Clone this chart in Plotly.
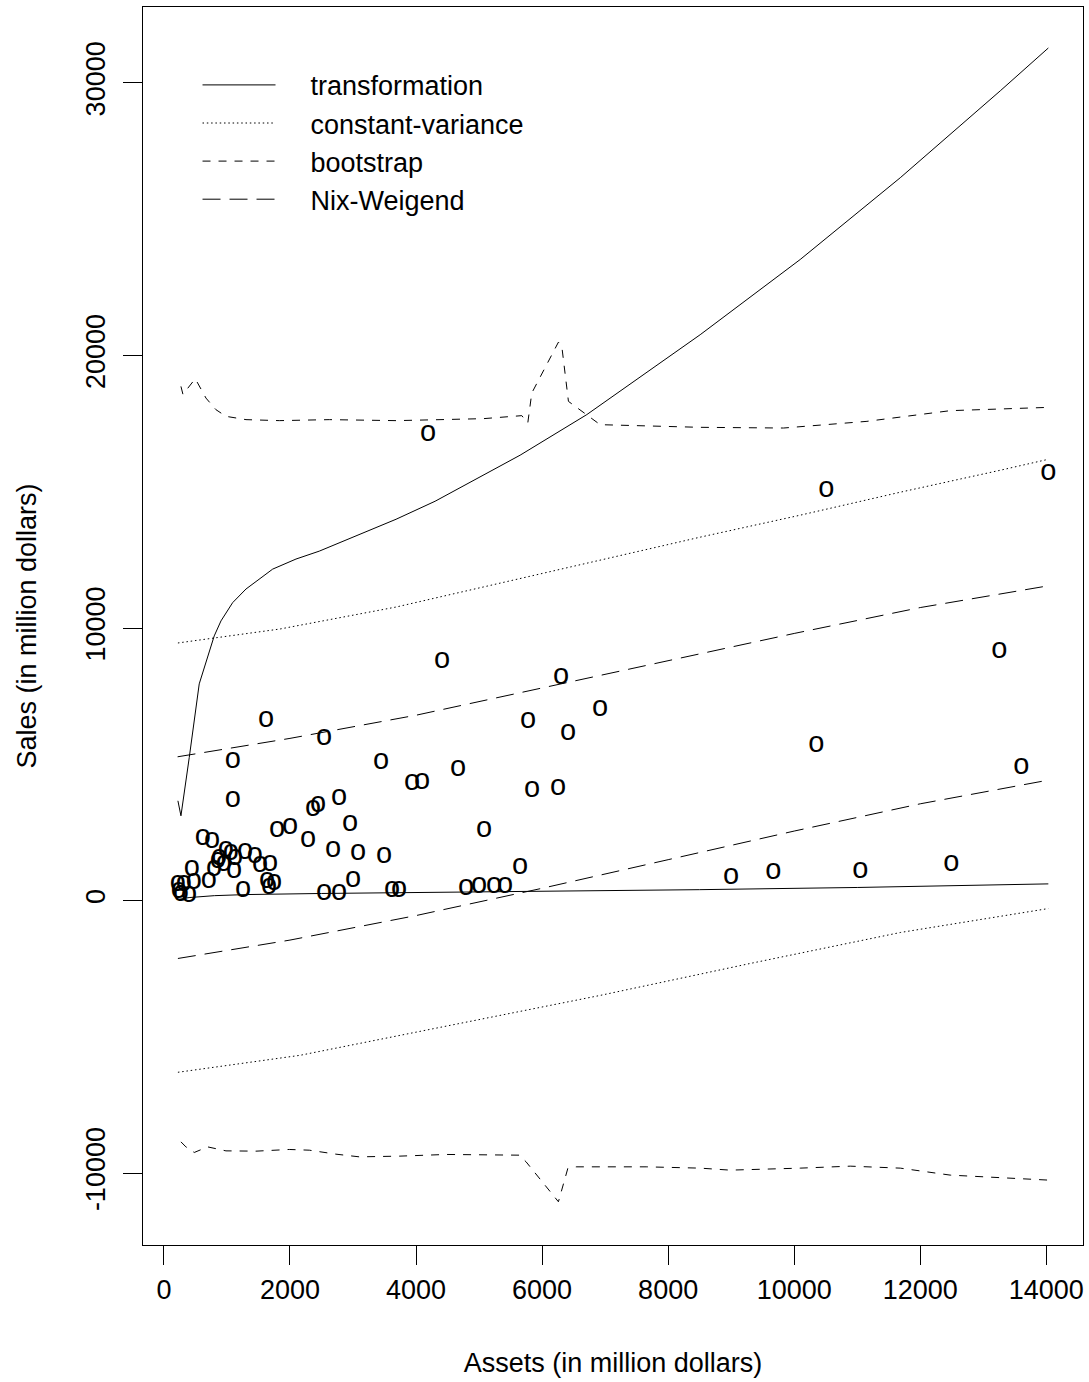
import plotly.graph_objects as go

# ---------------- data ----------------
assets = [4413, 1619, 2540, 1095, 3444, 4667, 3937, 4095, 1095, 2365, 2444, 2778,
          2952, 5079, 619, 762, 1794, 2000, 2286, 2683, 3079, 3492, 984, 1063,
          1127, 873, 1286, 1444, 857, 952, 794, 1524, 1683, 1111, 444, 714,
          476, 317, 222, 238, 270, 397, 1635, 1746, 1667, 1254, 3000, 2540,
          2778, 3619, 3730, 4794, 5000, 5238, 5413, 6302, 5778, 6413, 6921, 10349,
          5841, 6254, 5651, 9000, 9667, 11048, 4190, 10508, 14032, 13254, 13603, 12492]
sales = [8791, 6630, 5971, 5128, 5092, 4835, 4322, 4359, 3700, 3370, 3516, 3773,
         2820, 2600, 2308, 2198, 2600, 2711, 2234, 1868, 1758, 1648, 1868, 1758,
         1575, 1575, 1795, 1648, 1465, 1355, 1172, 1319, 1355, 1099, 1172, 733,
         696, 623, 623, 366, 256, 220, 733, 659, 513, 403, 769, 293,
         293, 403, 403, 476, 549, 549, 549, 8205, 6593, 6154, 7033, 5714,
         4066, 4139, 1245, 879, 1062, 1099, 17143, 15055, 15678, 9158, 4908, 1355]

trans_up_x = [222, 270, 402, 560, 798, 905, 1090, 1302, 1725, 2095, 2465, 2889,
              3683, 4302, 5651, 6710, 8508, 10095, 11683, 13270, 14032]
trans_up_y = [3660, 3110, 5250, 7950, 9710, 10260, 10930, 11430, 12160, 12530, 12820, 13220,
              13990, 14650, 16340, 17830, 20760, 23520, 26520, 29710, 31280]
trans_lo_x = [222, 400, 800, 1300, 2500, 5000, 8500, 11000, 14032]
trans_lo_y = [40, 110, 180, 220, 260, 310, 400, 480, 612]

cv_up_x = [222, 1841, 3683, 5333, 6921, 8508, 10095, 11683, 13270, 14032]
cv_up_y = [9451, 9963, 10769, 11648, 12491, 13333, 14139, 14982, 15788, 16190]
cv_lo_x = [222, 2159, 4540, 6921, 9302, 11683, 14032]
cv_lo_y = [-6300, -5678, -4579, -3480, -2308, -1172, -293]

boot_up_x = [270, 302, 497, 667, 825, 984, 1302, 1830, 2624, 3683, 5068, 5678,
             5773, 5836, 6259, 6313, 6418, 6550, 6921, 8508, 9831, 11154, 12476, 14032]
boot_up_y = [18864, 18571, 19147, 18436, 18011, 17766, 17645, 17608, 17645, 17608, 17681, 17791,
             17521, 18619, 20487, 20330, 18315, 18095, 17460, 17363, 17337, 17582, 17974, 18095]
boot_lo_x = [270, 349, 481, 694, 984, 1460, 1989, 2306, 2730, 3100, 3735, 4476, 5640,
             5746, 6259, 6408, 6540, 7651, 8508, 8984, 10095, 10889, 11683, 12476, 14032]
boot_lo_y = [-8853, -9037, -9242, -9037, -9183, -9194, -9132, -9158, -9304, -9403, -9377, -9315, -9341,
             -9586, -11051, -9828, -9769, -9769, -9817, -9890, -9817, -9744, -9817, -10073, -10256]

nw_up_x = [217, 2000, 4000, 6000, 8000, 10000, 12000, 14036]
nw_up_y = [5275, 5950, 6800, 7800, 8800, 9800, 10750, 11550]
nw_lo_x = [222, 2000, 4000, 6000, 8000, 10000, 12000, 14036]
nw_lo_y = [-2125, -1450, -550, 450, 1500, 2550, 3550, 4420]

x_tickvals = [0, 2000, 4000, 6000, 8000, 10000, 12000, 14000]
x_ticktext = ["0", "2000", "4000", "6000", "8000", "10000", "12000", "14000"]
y_tickvals = [-10000, 0, 10000, 20000, 30000]
y_ticktext = ["-10000", "0", "10000", "20000", "30000"]

# ---------------- figure ----------------
FONT = "Liberation Sans, Arial, Helvetica, sans-serif"
PAD = "\u00a0" * 4  # gap between legend sample line and its label
fig = go.Figure()


def band(name, xu, yu, xl, yl, dash):
    ln = dict(color="black", width=1, dash=dash)
    fig.add_trace(go.Scatter(x=xu, y=yu, mode="lines", name=PAD + name, legendgroup=name,
                             line=ln, hoverinfo="skip"))
    fig.add_trace(go.Scatter(x=xl, y=yl, mode="lines", name=PAD + name, legendgroup=name,
                             showlegend=False, line=ln, hoverinfo="skip"))


band("transformation", trans_up_x, trans_up_y, trans_lo_x, trans_lo_y, "solid")
band("constant-variance", cv_up_x, cv_up_y, cv_lo_x, cv_lo_y, "1.5px,2.8px")
band("bootstrap", boot_up_x, boot_up_y, boot_lo_x, boot_lo_y, "8px,8px")
band("Nix-Weigend", nw_up_x, nw_up_y, nw_lo_x, nw_lo_y, "18px,9px")

fig.add_trace(go.Scatter(x=assets, y=sales, mode="text", text=["o"] * len(assets),
                         textposition="middle center",
                         textfont=dict(family=FONT, size=29, color="black"),
                         showlegend=False, hoverinfo="skip"))

axis_common = dict(showline=True, linecolor="black", linewidth=1, mirror=True,
                   ticks="outside", ticklen=19, tickwidth=1, tickcolor="black",
                   showgrid=False, zeroline=False,
                   tickfont=dict(family=FONT, size=27, color="black"))

fig.update_layout(
    width=1089, height=1382,
    margin=dict(l=143, r=6, t=7, b=137, autoexpand=False),
    paper_bgcolor="white", plot_bgcolor="white",
    font=dict(family=FONT, size=27, color="black"),
    xaxis=dict(range=[-332, 14582], tickvals=x_tickvals, ticktext=x_ticktext,
               ticklabelstandoff=2,
               title=dict(text="Assets (in million dollars)", standoff=48,
                          font=dict(family=FONT, size=27, color="black")),
               **axis_common),
    yaxis=dict(range=[-12637, 32784], tickvals=y_tickvals, ticktext=y_ticktext,
               tickangle=-90, ticklabelstandoff=7,
               title=dict(text="Sales (in million dollars)", standoff=36,
                          font=dict(family=FONT, size=27, color="black")),
               **axis_common),
    legend=dict(x=0.058, y=0.9565, xanchor="left", yanchor="top",
                bgcolor="rgba(0,0,0,0)", borderwidth=0, itemwidth=73,
                tracegroupgap=0,
                font=dict(family=FONT, size=27, color="black")),
    showlegend=True,
)

fig.write_html("out.html")
